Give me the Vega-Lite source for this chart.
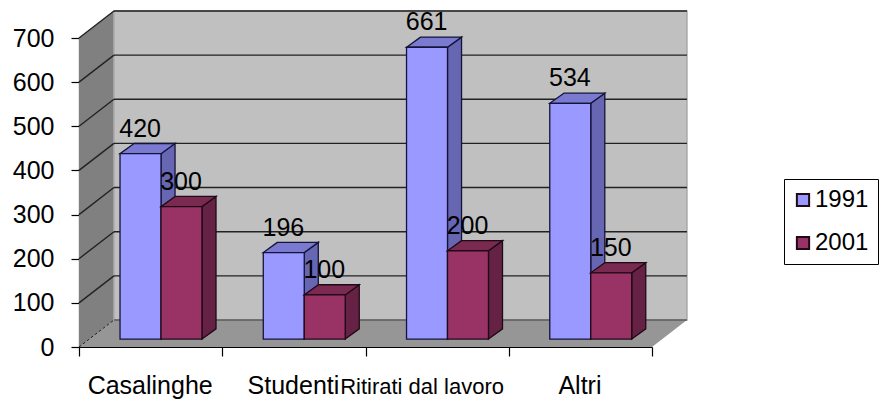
{
"$schema":"https://vega.github.io/schema/vega-lite/v6.json",
"width":573,"height":309,
"autosize":{"type":"none"},
"padding":{"left":79,"top":38,"right":227,"bottom":56},
"background":"white",
"config":{"view":{"stroke":null},"font":"Liberation Sans"},
"data":{"values":[
{"category":"Casalinghe","year":"1991","value":420},
{"category":"Casalinghe","year":"2001","value":300},
{"category":"Studenti","year":"1991","value":196},
{"category":"Studenti","year":"2001","value":100},
{"category":"Ritirati dal lavoro","year":"1991","value":661},
{"category":"Ritirati dal lavoro","year":"2001","value":200},
{"category":"Altri","year":"1991","value":534},
{"category":"Altri","year":"2001","value":150}
]},
"transform":[
{"calculate":"indexof(['Casalinghe','Studenti','Ritirati dal lavoro','Altri'],datum.category)","as":"idx"},
{"calculate":"datum.idx+0.5724+(datum.year==='1991'?-0.286:0)","as":"xl"},
{"calculate":"datum.xl+0.286","as":"xr"},
{"calculate":"datum.xl+0.14","as":"xm"},
{"calculate":"datum.value+18","as":"top"}
],
"layer":[
{"data":{"values":[{"t":0},{"t":1}]},
 "transform":[{"calculate":"datum.t*0.244","as":"a"},{"calculate":"4+datum.t*0.244","as":"b"},{"calculate":"datum.t*61.2","as":"c"}],
 "mark":{"type":"area","orient":"horizontal","color":"#969696"},
 "encoding":{"x":{"field":"a","type":"quantitative","scale":{"domain":[0,4],"nice":false},
   "axis":{"values":[0,1,2,3,4],"labels":false,"title":null,"grid":false,"tickSize":9,"tickColor":"#000","domainColor":"#000","tickWidth":1.2,"domainWidth":1.2}},
   "x2":{"field":"b"},
   "y":{"field":"c","type":"quantitative","scale":{"domain":[0,700],"nice":false},
   "axis":{"values":[0,100,200,300,400,500,600,700],"title":null,"grid":false,"tickSize":8,"tickColor":"#000","domainColor":"#000","tickWidth":1.2,"domainWidth":1.2,"labelFontSize":25,"labelColor":"#000","labelPadding":17,"labelFont":"Liberation Sans"}}}},
{"data":{"values":[{"t":0},{"t":1}]},
 "transform":[{"calculate":"datum.t*0.244","as":"a"},{"calculate":"datum.t*61.2","as":"c"},{"calculate":"700+datum.t*61.2","as":"d"}],
 "mark":{"type":"area","color":"#808080"},
 "encoding":{"x":{"field":"a","type":"quantitative"},"y":{"field":"c","type":"quantitative"},"y2":{"field":"d"}}},
{"data":{"values":[{"t":0}]},
 "mark":{"type":"rect","color":"#c0c0c0","stroke":"#a8a8a8","strokeWidth":1.5},
 "encoding":{"x":{"datum":0.244,"type":"quantitative"},"x2":{"datum":4.244},"y":{"datum":61.2,"type":"quantitative"},"y2":{"datum":761.2}}},
{"data":{"values":[{"g":100},{"g":200},{"g":300},{"g":400},{"g":500},{"g":600},{"g":700}]},
 "transform":[{"calculate":"datum.g+61.2","as":"gb"}],
 "mark":{"type":"rule","color":"#222","strokeWidth":1.4},
 "encoding":{"x":{"datum":0,"type":"quantitative"},"x2":{"datum":0.244},"y":{"field":"g","type":"quantitative"},"y2":{"field":"gb"}}},
{"data":{"values":[{"g":100},{"g":200},{"g":300},{"g":400},{"g":500},{"g":600},{"g":700}]},
 "transform":[{"calculate":"datum.g+61.2","as":"gb"}],
 "mark":{"type":"rule","color":"#222","strokeWidth":1.4},
 "encoding":{"x":{"datum":0.244,"type":"quantitative"},"x2":{"datum":4.244},"y":{"field":"gb","type":"quantitative"}}},
{"data":{"values":[{"g":0}]},
 "mark":{"type":"rule","color":"#222","strokeWidth":1,"strokeDash":[3,2]},
 "encoding":{"x":{"datum":0,"type":"quantitative"},"x2":{"datum":0.244},"y":{"datum":0,"type":"quantitative"},"y2":{"datum":61.2}}},
{"data":{"values":[{"g":0}]},
 "mark":{"type":"rule","color":"#333","strokeWidth":1.2},
 "encoding":{"x":{"datum":0.244,"type":"quantitative"},"x2":{"datum":4.244},"y":{"datum":61.2,"type":"quantitative"}}},

{"transform":[{"filter":"datum.year==='1991'"},{"calculate":"[0,1]","as":"t"},{"flatten":["t"]},
  {"calculate":"datum.xr+datum.t*0.098","as":"sx"},{"calculate":"18+datum.t*23","as":"sb"},{"calculate":"datum.top+datum.t*23","as":"st"}],
 "mark":{"type":"area","color":"#6666b3","stroke":"#14143a","strokeWidth":1.3},
 "encoding":{"x":{"field":"sx","type":"quantitative"},"y":{"field":"st","type":"quantitative"},"y2":{"field":"sb"},"detail":{"field":"category"}}},
{"transform":[{"filter":"datum.year==='1991'"},{"calculate":"[0,1]","as":"t"},{"flatten":["t"]},
  {"calculate":"datum.xl+datum.t*0.098","as":"sa"},{"calculate":"datum.xr+datum.t*0.098","as":"sc"},{"calculate":"datum.top+datum.t*23","as":"st"}],
 "mark":{"type":"area","orient":"horizontal","color":"#7a7ad0","stroke":"#14143a","strokeWidth":1.3},
 "encoding":{"x":{"field":"sa","type":"quantitative"},"x2":{"field":"sc"},"y":{"field":"st","type":"quantitative"},"detail":{"field":"category"}}},
{"transform":[{"filter":"datum.year==='1991'"},{"calculate":"18","as":"base"}],
 "mark":{"type":"rect","stroke":"#14143a","strokeWidth":1.3},
 "encoding":{"x":{"field":"xl","type":"quantitative"},"x2":{"field":"xr"},"y":{"field":"top","type":"quantitative"},"y2":{"field":"base"},
   "fill":{"field":"year","type":"nominal","scale":{"domain":["1991","2001"],"range":["#9999ff","#993366"]},
     "legend":{"orient":"none","legendX":705,"legendY":141,"title":null,"symbolType":"square","symbolSize":150,"symbolStrokeColor":"#000","symbolStrokeWidth":2,"symbolOffset":-2,"labelFontSize":24,"labelColor":"#000","labelFont":"Liberation Sans","labelOffset":0,"padding":9,"rowPadding":19,"strokeColor":"#000","fillColor":"#fff"}}}},
{"transform":[{"filter":"datum.year==='2001'"},{"calculate":"[0,1]","as":"t"},{"flatten":["t"]},
  {"calculate":"datum.xr+datum.t*0.098","as":"sx"},{"calculate":"18+datum.t*23","as":"sb"},{"calculate":"datum.top+datum.t*23","as":"st"}],
 "mark":{"type":"area","color":"#662244","stroke":"#1f0a16","strokeWidth":1.3},
 "encoding":{"x":{"field":"sx","type":"quantitative"},"y":{"field":"st","type":"quantitative"},"y2":{"field":"sb"},"detail":{"field":"category"}}},
{"transform":[{"filter":"datum.year==='2001'"},{"calculate":"[0,1]","as":"t"},{"flatten":["t"]},
  {"calculate":"datum.xl+datum.t*0.098","as":"sa"},{"calculate":"datum.xr+datum.t*0.098","as":"sc"},{"calculate":"datum.top+datum.t*23","as":"st"}],
 "mark":{"type":"area","orient":"horizontal","color":"#7a2950","stroke":"#1f0a16","strokeWidth":1.3},
 "encoding":{"x":{"field":"sa","type":"quantitative"},"x2":{"field":"sc"},"y":{"field":"st","type":"quantitative"},"detail":{"field":"category"}}},
{"transform":[{"filter":"datum.year==='2001'"},{"calculate":"18","as":"base"}],
 "mark":{"type":"rect","stroke":"#1f0a16","strokeWidth":1.3},
 "encoding":{"x":{"field":"xl","type":"quantitative"},"x2":{"field":"xr"},"y":{"field":"top","type":"quantitative"},"y2":{"field":"base"},
   "fill":{"field":"year","type":"nominal"}}},
{"mark":{"type":"text","fontSize":25,"color":"#000","align":"center","baseline":"alphabetic","dy":-17,"font":"Liberation Sans"},
 "encoding":{"x":{"field":"xm","type":"quantitative"},"y":{"field":"top","type":"quantitative"},"text":{"field":"value","type":"quantitative"}}},
{"transform":[{"filter":"datum.year==='1991' && datum.category!=='Ritirati dal lavoro'"},{"calculate":"datum.idx+0.497","as":"lx"}],
 "mark":{"type":"text","fontSize":25,"color":"#000","align":"center","baseline":"alphabetic","font":"Liberation Sans"},
 "encoding":{"x":{"field":"lx","type":"quantitative"},"y":{"datum":-106.5,"type":"quantitative"},"text":{"field":"category","type":"nominal"}}},
{"transform":[{"filter":"datum.year==='1991' && datum.category==='Ritirati dal lavoro'"},{"calculate":"datum.idx+0.395","as":"lx"}],
 "mark":{"type":"text","fontSize":22,"color":"#000","align":"center","baseline":"alphabetic","font":"Liberation Sans"},
 "encoding":{"x":{"field":"lx","type":"quantitative"},"y":{"datum":-106.5,"type":"quantitative"},"text":{"field":"category","type":"nominal"}}}
]
}
